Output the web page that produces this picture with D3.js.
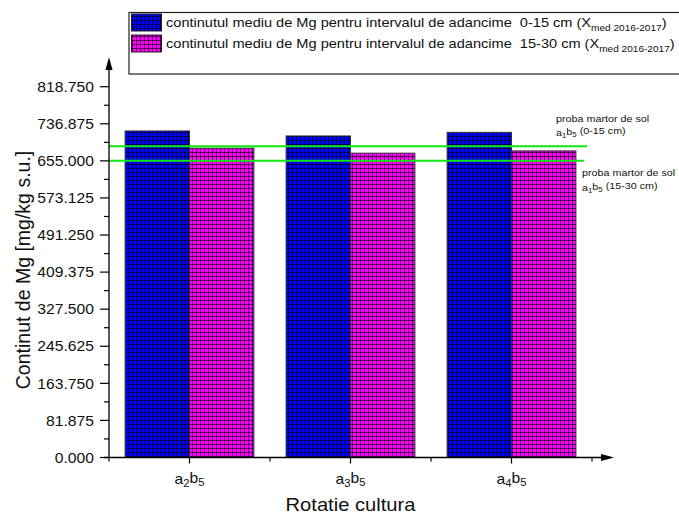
<!DOCTYPE html>
<html>
<head>
<meta charset="utf-8">
<script src="https://cdn.jsdelivr.net/npm/d3@7"></script>
<style>
  html, body { margin: 0; padding: 0; background: #fff; }
  svg { display: block; font-family: Arial, "Liberation Sans", sans-serif; }
  text { white-space: pre; }
</style>
</head>
<body>
<svg id="chart" width="679" height="515"></svg>
<script>
// Crop rotation variants (letters followed by digits; digits are drawn as subscripts)
const categories = ["a2b5", "a3b5", "a4b5"];

// Average Mg content [mg/kg s.u.], 2016-2017
const mgDepth0to15 = [721, 710, 718];
const mgDepth15to30 = [683, 672, 677];

// Control soil sample a1b5 reference levels
const controlLevels = [687, 655];
const controlLabels = [["proba martor de sol", "a1b5 (0-15 cm)"], ["proba martor de sol", "a1b5 (15-30 cm)"]];

const yTicks = d3.range(0, 11).map(i => i * 81.875);
const seriesNames = [
  "continutul mediu de Mg pentru intervalul de adancime  0-15 cm (X",
  "continutul mediu de Mg pentru intervalul de adancime  15-30 cm (X"
];
const seriesColors = ["#0000ff", "#ff00ff"];

const svg = d3.select("#chart");
const W = 679, H = 515;
const SX = 1.12; // horizontal text stretch
svg.append("rect").attr("width", W).attr("height", H).attr("fill", "#fff");

const x0 = 109, x1 = 592, yBase = 457.5, yTop = 86.7;

const x = d3.scaleBand().domain(categories).range([x0, x1]).paddingInner(0).paddingOuter(0);
const y = d3.scaleLinear().domain([0, 818.75]).range([yBase, yTop]);

// Hatched fills
const defs = svg.append("defs");
seriesColors.forEach((c, i) => {
  const p = defs.append("pattern")
    .attr("id", "grid" + i)
    .attr("patternUnits", "userSpaceOnUse")
    .attr("width", 4).attr("height", 4);
  p.append("rect").attr("width", 4).attr("height", 4).attr("fill", c);
  p.append("path").attr("d", "M0,0.5H4M0.5,0V4").attr("stroke", "#000").attr("stroke-opacity", 0.62).attr("stroke-width", 1);
});

const barW = x.bandwidth() * 0.4;
const series = [mgDepth0to15, mgDepth15to30];
series.forEach((vals, si) => {
  svg.append("g").selectAll("rect")
    .data(vals)
    .join("rect")
    .attr("x", (d, i) => x(categories[i]) + x.bandwidth() / 2 + (si - 1) * barW)
    .attr("y", d => y(d))
    .attr("width", barW)
    .attr("height", d => yBase - y(d))
    .attr("fill", `url(#grid${si})`)
    .attr("stroke", "#333")
    .attr("stroke-width", 1);
});

// Control reference lines
controlLevels.forEach((v, i) => {
  svg.append("line")
    .attr("x1", x0).attr("x2", i === 0 ? 587 : 584)
    .attr("y1", y(v)).attr("y2", y(v))
    .attr("stroke", "#10e810").attr("stroke-width", 2);
});

// text placed at (px,py) and stretched horizontally
function stretchedText(parent, px, py, size, sx = SX) {
  return parent.append("text")
    .attr("transform", `translate(${px},${py}) scale(${sx},1)`)
    .attr("font-size", size).attr("fill", "#111");
}

function subText(sel, str, subSize) {
  // letters with subscript digits in the first word, rest kept as written
  const m = str.match(/^(\S+)(.*)$/);
  const word = m[1], rest = m[2];
  const parts = word.match(/[a-zA-Z]+|\d+/g);
  let sub = false;
  parts.forEach(p => {
    const isNum = /^\d+$/.test(p);
    const t = sel.append("tspan").text(p);
    if (isNum && !sub) { t.attr("dy", "0.3em").attr("font-size", subSize); sub = true; }
    else if (!isNum && sub) { t.attr("dy", "-0.3em"); sub = false; }
    else if (isNum) { t.attr("font-size", subSize); }
  });
  if (rest) {
    const t = sel.append("tspan").text(rest);
    if (sub) t.attr("dy", "-0.3em");
  }
}

// Annotation text for control lines
const annX = [556, 582];
const annY = [121.5, 176];
controlLabels.forEach((lines, i) => {
  stretchedText(svg, annX[i], annY[i], 9.6).text(lines[0]);
  const t = stretchedText(svg, annX[i], annY[i] + 14.5, 9.6);
  subText(t, lines[1], 7);
});

// Y axis
const yAxisG = svg.append("g").attr("transform", `translate(${x0},0)`);
yAxisG.append("line").attr("x1", 0).attr("x2", 0).attr("y1", yBase).attr("y2", 66).attr("stroke", "#000").attr("stroke-width", 1.3);
yAxisG.append("path").attr("d", "M0,57 L-3.5,70 L3.5,70 Z").attr("fill", "#000");
yAxisG.selectAll(".maj").data(yTicks).join("line")
  .attr("x1", -9).attr("x2", 0).attr("y1", d => y(d)).attr("y2", d => y(d))
  .attr("stroke", "#000").attr("stroke-width", 1.2);
const minorTicks = yTicks.slice(0, -1).map(d => d + 81.875 / 2);
yAxisG.selectAll(".min").data(minorTicks).join("line")
  .attr("x1", -5).attr("x2", 0).attr("y1", d => y(d)).attr("y2", d => y(d))
  .attr("stroke", "#000").attr("stroke-width", 1.2);
yTicks.forEach(d => {
  stretchedText(yAxisG, -15, y(d) + 5.2, 14).attr("text-anchor", "end").text(d3.format(".3f")(d));
});

// X axis
const xAxisG = svg.append("g");
xAxisG.append("line").attr("x1", x0 - 5).attr("x2", 605).attr("y1", yBase).attr("y2", yBase).attr("stroke", "#000").attr("stroke-width", 1.3);
xAxisG.append("path").attr("d", `M614,${yBase} L601,${yBase - 3.5} L601,${yBase + 3.5} Z`).attr("fill", "#000");
const bounds = categories.map(c => x(c)).concat([x1]);
xAxisG.selectAll(".b").data(bounds).join("line")
  .attr("x1", d => d).attr("x2", d => d).attr("y1", yBase).attr("y2", yBase + 4)
  .attr("stroke", "#000").attr("stroke-width", 1.2);
xAxisG.selectAll(".c").data(categories).join("line")
  .attr("x1", d => x(d) + x.bandwidth() / 2).attr("x2", d => x(d) + x.bandwidth() / 2)
  .attr("y1", yBase).attr("y2", yBase + 6)
  .attr("stroke", "#000").attr("stroke-width", 1.2);
categories.forEach(c => {
  const t = stretchedText(xAxisG, x(c) + x.bandwidth() / 2, 484, 14).attr("text-anchor", "middle");
  subText(t, c, 10);
});

// Axis titles
stretchedText(svg, (x0 + x1) / 2, 511, 18).attr("text-anchor", "middle").text("Rotatie cultura");
svg.append("text").attr("transform", "translate(30,270) rotate(-90)").attr("text-anchor", "middle")
  .attr("font-size", 19.5).attr("fill", "#111").text("Continut de Mg [mg/kg s.u.]");

// Legend
const lg = svg.append("g");
lg.append("rect").attr("x", 129).attr("y", 12.5).attr("width", 560).attr("height", 61.5)
  .attr("fill", "#fff").attr("stroke", "#222").attr("stroke-width", 1.2);
seriesNames.forEach((name, i) => {
  const yy = 14 + i * 21;
  lg.append("rect").attr("x", 131.5).attr("y", yy).attr("width", 30).attr("height", 17)
    .attr("fill", `url(#grid${i})`).attr("stroke", "#222").attr("stroke-width", 1);
  const t = stretchedText(lg, 166, yy + 13, 13, 1.122);
  t.append("tspan").text(name);
  t.append("tspan").attr("dy", 3.5).attr("font-size", 9).text("med 2016-2017");
  t.append("tspan").attr("dy", -3.5).text(")");
});
</script>
</body>
</html>
